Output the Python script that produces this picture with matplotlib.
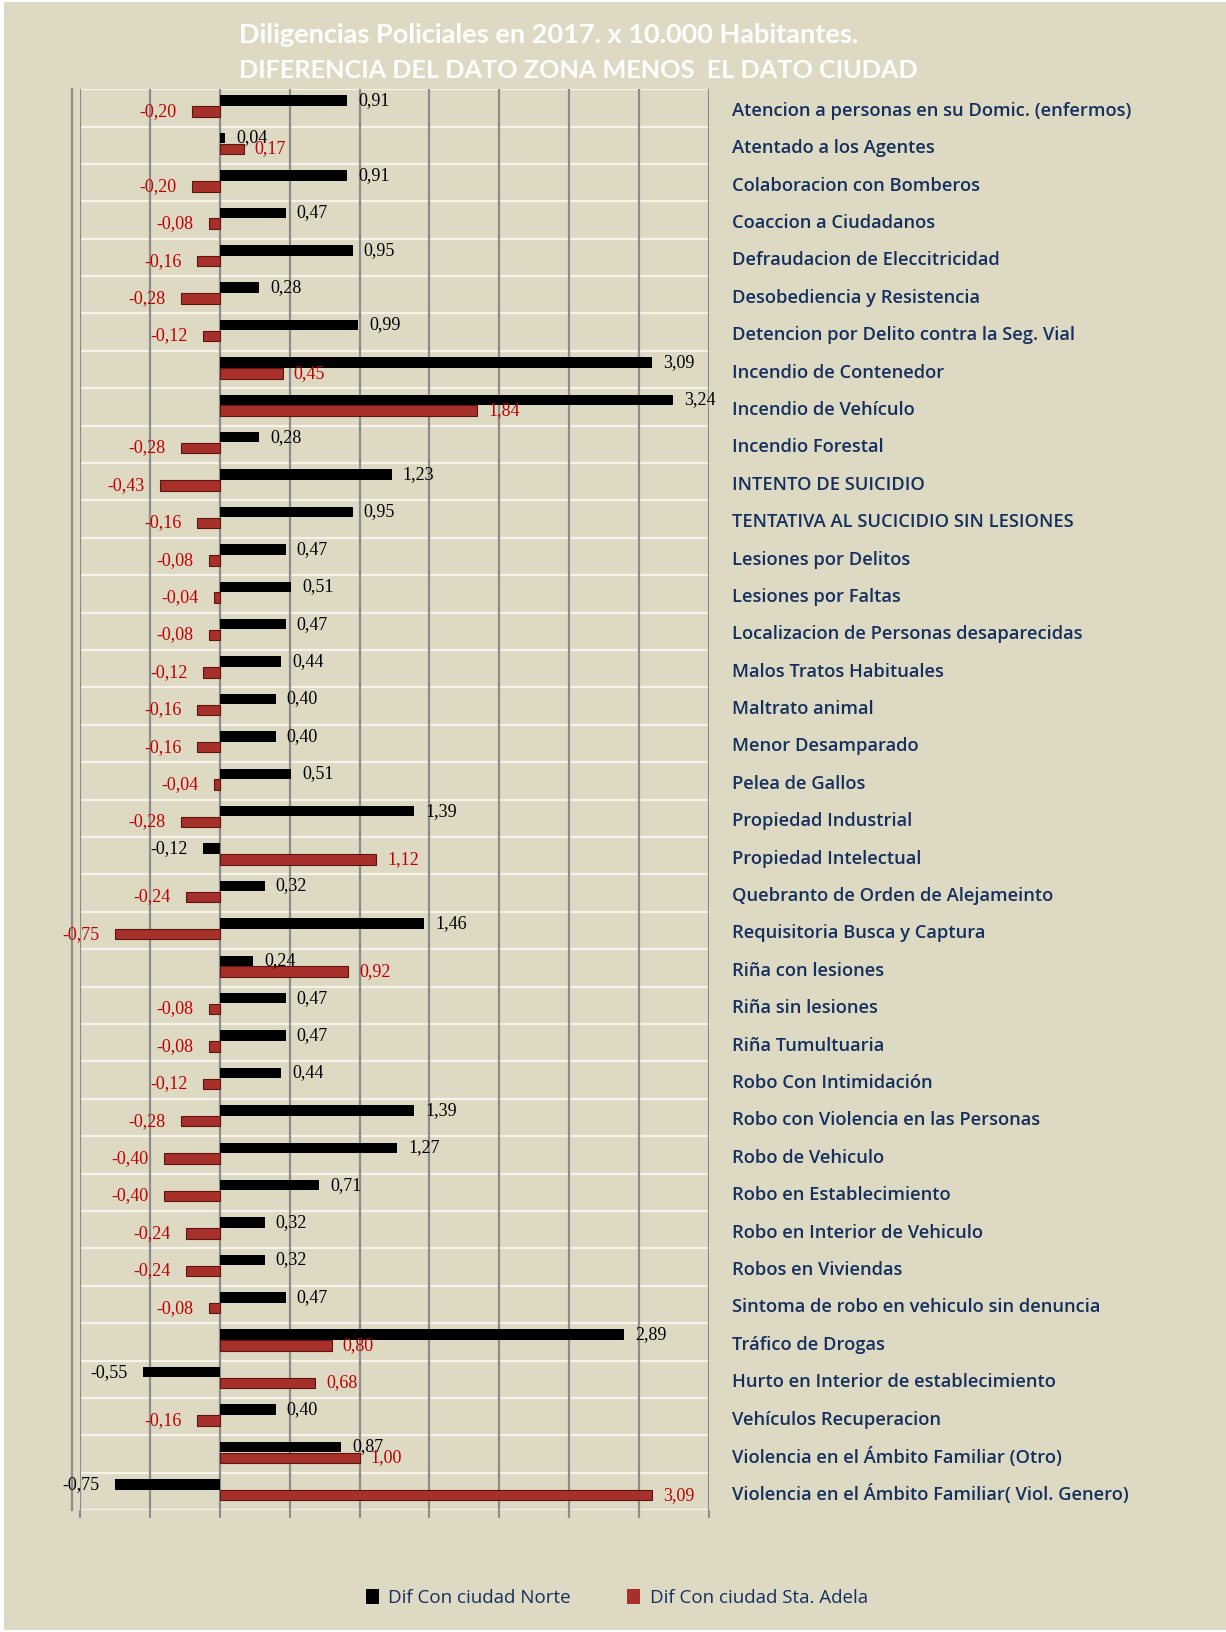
import matplotlib.pyplot as plt
import numpy as np
from matplotlib.patches import Patch, Rectangle
from matplotlib.transforms import blended_transform_factory

categories = [
    "Atencion a personas en su Domic. (enfermos)",
    "Atentado a los Agentes",
    "Colaboracion con Bomberos",
    "Coaccion a Ciudadanos",
    "Defraudacion de Eleccitricidad",
    "Desobediencia y Resistencia",
    "Detencion por Delito contra la Seg. Vial",
    "Incendio de Contenedor",
    "Incendio de Vehículo",
    "Incendio Forestal",
    "INTENTO DE SUICIDIO",
    "TENTATIVA AL SUCICIDIO SIN LESIONES",
    "Lesiones por Delitos",
    "Lesiones por Faltas",
    "Localizacion de Personas desaparecidas",
    "Malos Tratos Habituales",
    "Maltrato animal",
    "Menor Desamparado",
    "Pelea de Gallos",
    "Propiedad Industrial",
    "Propiedad Intelectual",
    "Quebranto de Orden de Alejameinto",
    "Requisitoria Busca y Captura",
    "Riña con lesiones",
    "Riña sin lesiones",
    "Riña Tumultuaria",
    "Robo Con Intimidación",
    "Robo con Violencia en las Personas",
    "Robo de Vehiculo",
    "Robo en Establecimiento",
    "Robo en Interior de Vehiculo",
    "Robos en Viviendas",
    "Sintoma de robo en vehiculo sin denuncia",
    "Tráfico de Drogas",
    "Hurto en Interior de establecimiento",
    "Vehículos Recuperacion",
    "Violencia en el Ámbito Familiar (Otro)",
    "Violencia en el Ámbito Familiar( Viol. Genero)",
]

norte = [0.91, 0.04, 0.91, 0.47, 0.95, 0.28, 0.99, 3.09, 3.24, 0.28,
         1.23, 0.95, 0.47, 0.51, 0.47, 0.44, 0.40, 0.40, 0.51, 1.39,
         -0.12, 0.32, 1.46, 0.24, 0.47, 0.47, 0.44, 1.39, 1.27, 0.71,
         0.32, 0.32, 0.47, 2.89, -0.55, 0.40, 0.87, -0.75]

adela = [-0.20, 0.17, -0.20, -0.08, -0.16, -0.28, -0.12, 0.45, 1.84, -0.28,
         -0.43, -0.16, -0.08, -0.04, -0.08, -0.12, -0.16, -0.16, -0.04, -0.28,
         1.12, -0.24, -0.75, 0.92, -0.08, -0.08, -0.12, -0.28, -0.40, -0.40,
         -0.24, -0.24, -0.08, 0.80, 0.68, -0.16, 1.00, 3.09]

series_names = ["Dif Con ciudad Norte", "Dif Con ciudad Sta. Adela"]
title_lines = ["Diligencias Policiales en 2017. x 10.000 Habitantes.",
               "DIFERENCIA DEL DATO ZONA MENOS  EL DATO CIUDAD"]

BG = '#DDD9C3'
NAVY = '#14305E'
RED = '#A8302A'
GRID = '#8C8C8C'

fig = plt.figure(figsize=(12.26, 16.32), dpi=100)
fig.patch.set_facecolor('white')
fig.patches.append(Rectangle((0.0035, 0.0015), 0.9965, 0.997, transform=fig.transFigure,
                             facecolor=BG, edgecolor='none', zorder=-5))

ax = fig.add_axes([0.0653, 0.0747, 0.513, 0.8707])
ax.set_facecolor('none')

y = np.arange(len(categories))
h = 0.28
ax.barh(y - 0.19, norte, height=h, color='black', zorder=3)
ax.barh(y + 0.10, adela, height=h, color=RED, edgecolor='#5E1512', linewidth=0.8, zorder=3)

ax.set_xlim(-1, 3.5)
ax.set_ylim(len(categories) - 0.5, -0.5)
ax.set_xticks(np.arange(-1, 3.51, 0.5))
ax.set_yticks([])
ax.grid(axis='x', color=GRID, linewidth=1.6, zorder=1)
ax.set_axisbelow(True)
ax.tick_params(axis='x', bottom=True, length=6, width=1.5, color=GRID, labelbottom=False)
for s in ax.spines.values():
    s.set_visible(False)

# row separators
for b in np.arange(len(categories) + 1) - 0.5:
    ax.axhline(b, color='#F5F3EA', linewidth=1.6, zorder=0.5)

# left wall double line
ax.axvline(-1 - 8 / 139.6, color=GRID, linewidth=1.6, clip_on=False, zorder=1)

def fmt(v):
    return f"{v:.2f}".replace('.', ',')

for i, v in enumerate(norte):
    ax.annotate(fmt(v), xy=(v, i - 0.19), xytext=(8 if v >= 0 else -11, 0),
                textcoords='offset points', ha='left' if v >= 0 else 'right',
                va='center', fontsize=13, family='Liberation Serif',
                color='black', zorder=5)
for i, v in enumerate(adela):
    ax.annotate(fmt(v), xy=(v, i + 0.10), xytext=(8 if v >= 0 else -11, 0),
                textcoords='offset points', ha='left' if v >= 0 else 'right',
                va='center', fontsize=13, family='Liberation Serif',
                color='#C00000', zorder=5)

trans = blended_transform_factory(ax.transAxes, ax.transData)
for i, c in enumerate(categories):
    ax.text(1.0366, i + 0.08, c, transform=trans, ha='left', va='center',
            fontsize=13.2, family='Open Sans', fontweight='semibold', color=NAVY)

fig.text(0.195, 0.9785, title_lines[0], color='white', fontsize=19.5, fontweight='bold',
         family='Lato', va='center', ha='left')
fig.text(0.195, 0.9565, title_lines[1], color='white', fontsize=18.2, fontweight='bold',
         family='Lato', va='center', ha='left')

handles = [Patch(facecolor='black'), Patch(facecolor=RED)]
fig.legend(handles, series_names, loc='center', bbox_to_anchor=(0.503, 0.0208), ncol=2,
           frameon=False, handlelength=0.7, handleheight=0.9, columnspacing=3.0,
           handletextpad=0.5, labelcolor=NAVY,
           prop={'family': 'Open Sans', 'size': 13.5})

fig.savefig('out.png', dpi=100, facecolor=fig.get_facecolor())
